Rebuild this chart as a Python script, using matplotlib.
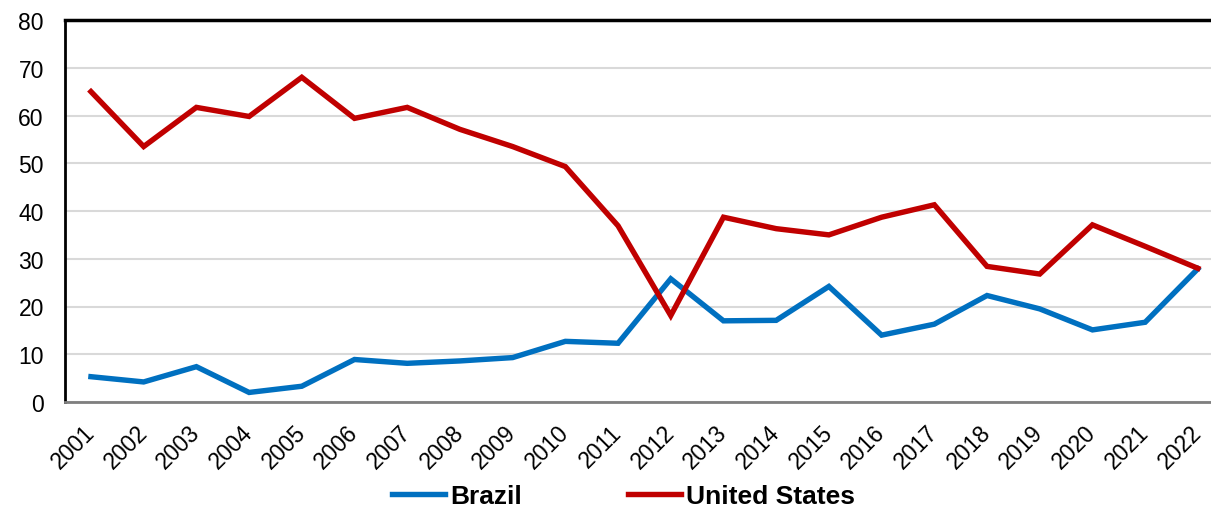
import matplotlib
matplotlib.use("Agg")
import matplotlib.pyplot as plt
import numpy as np

plt.rcParams['font.family'] = ['Liberation Sans', 'DejaVu Sans']

years = [str(y) for y in range(2001, 2023)]
brazil = [5.3, 4.2, 7.4, 2.0, 3.3, 8.9, 8.1, 8.6, 9.3, 12.7, 12.3,
          25.8, 17.0, 17.1, 24.2, 14.0, 16.3, 22.3, 19.5, 15.1, 16.7, 27.9]
united_states = [65.0, 53.5, 61.7, 59.8, 68.0, 59.4, 61.7, 57.1, 53.5, 49.3, 36.9,
                 18.1, 38.7, 36.3, 35.0, 38.7, 41.3, 28.4, 26.8, 37.1, 32.6, 28.0]
y_ticks = [0, 10, 20, 30, 40, 50, 60, 70, 80]

W, H = 1211, 510
fig = plt.figure(figsize=(W / 100, H / 100), dpi=100)
left_px, bottom_px, top_px = 64.6, 403, 21
width_px = 22 * 52.71
ax = fig.add_axes([left_px / W, (H - bottom_px) / H, width_px / W, (bottom_px - top_px) / H])

x = np.arange(len(years))
ax.plot(x, brazil, color='#0070C0', lw=3.9, label='Brazil', solid_joinstyle='miter', zorder=3)
ax.plot(x, united_states, color='#C00000', lw=3.9, label='United States', solid_joinstyle='miter', zorder=4)

ax.set_xlim(-0.5, len(years) - 0.5)
ax.set_ylim(0, 80)
ax.set_yticks(y_ticks)
ax.set_yticklabels([str(v) for v in y_ticks], fontsize=16.5)
ax.set_xticks(x)
ax.set_xticklabels(years, fontsize=16.5, rotation=45, ha='right', va='center',
                   rotation_mode='anchor')
ax.tick_params(axis='both', length=0)
ax.tick_params(axis='y', pad=15)
ax.tick_params(axis='x', pad=19)

ax.yaxis.grid(True, color='#D9D9D9', lw=1.5)
ax.set_axisbelow(True)

ax.spines['left'].set_color('black')
ax.spines['left'].set_linewidth(2)
ax.spines['top'].set_color('black')
ax.spines['top'].set_linewidth(2.5)
ax.spines['bottom'].set_color('#7F7F7F')
ax.spines['bottom'].set_linewidth(2)
ax.spines['right'].set_visible(False)

fig.text(8 / W, 1 - 4 / H, 'Percent', fontsize=16.5, va='bottom', ha='left')

fig.legend(loc='center', bbox_to_anchor=(0.515, 1 - 497 / H), ncol=2, frameon=False,
           prop={'size': 19, 'weight': 'bold'}, handlelength=2.0, handletextpad=0.2,
           columnspacing=4.0, borderaxespad=0)

fig.savefig('out.png', dpi=100)
